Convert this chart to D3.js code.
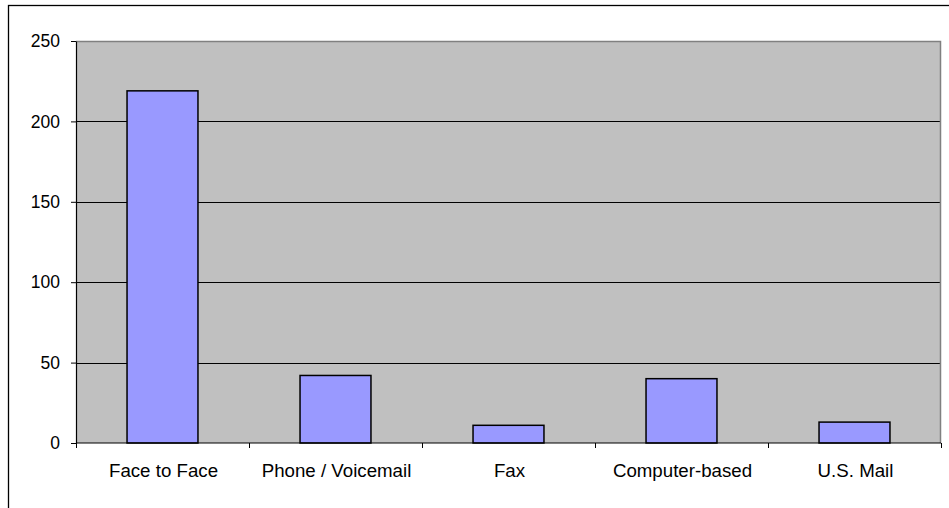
<!DOCTYPE html>
<html>
<head>
<meta charset="utf-8">
<script src="https://cdn.jsdelivr.net/npm/d3@7"></script>
<style>
  html, body { margin: 0; padding: 0; background: #fff; }
  svg { display: block; font-family: "Liberation Sans", Arial, sans-serif; }
</style>
</head>
<body>
<svg id="chart" width="949" height="508"></svg>
<script>
// Contact methods and their counts
const categories = ["Face to Face", "Phone / Voicemail", "Fax", "Computer-based", "U.S. Mail"];
const counts = [219, 42, 11, 40, 13];
const yTicks = [0, 50, 100, 150, 200, 250];

const svg = d3.select("#chart");
const plot = { left: 76, right: 941, top: 41, bottom: 443 };

// Outer chart frame (runs off the right and bottom edges)
svg.append("rect")
  .attr("x", 8.5).attr("y", 5.5)
  .attr("width", 960).attr("height", 520)
  .attr("fill", "#fff").attr("stroke", "#000").attr("stroke-width", 1.3);

const x = d3.scaleBand()
  .domain(categories)
  .range([plot.left, plot.right])
  .paddingInner(0.59)
  .paddingOuter(0.295);

const y = d3.scaleLinear()
  .domain([0, 250])
  .range([plot.bottom, plot.top]);

// Plot area background
svg.append("rect")
  .attr("x", plot.left).attr("y", plot.top)
  .attr("width", plot.right - plot.left).attr("height", plot.bottom - plot.top)
  .attr("fill", "#c0c0c0");

// Horizontal gridlines
svg.append("g")
  .selectAll("line")
  .data(yTicks.filter(d => d > 0 && d < 250))
  .join("line")
  .attr("x1", plot.left).attr("x2", plot.right)
  .attr("y1", d => Math.round(y(d)) + 0.5).attr("y2", d => Math.round(y(d)) + 0.5)
  .attr("stroke", "#000").attr("stroke-width", 1);

// Plot area border (top and right)
svg.append("path")
  .attr("d", `M${plot.left},${plot.top + 0.5}H${plot.right - 0.5}V${plot.bottom}`)
  .attr("fill", "none").attr("stroke", "#808080").attr("stroke-width", 1.5);

// Bars
svg.append("g")
  .selectAll("rect")
  .data(categories.map((c, i) => ({ c, v: counts[i] })))
  .join("rect")
  .attr("x", d => x(d.c))
  .attr("y", d => y(d.v))
  .attr("width", x.bandwidth())
  .attr("height", d => y(0) - y(d.v))
  .attr("fill", "#9999ff")
  .attr("stroke", "#000")
  .attr("stroke-width", 1.5);

// Y axis
const yAxis = svg.append("g")
  .attr("transform", `translate(${plot.left},0)`)
  .call(d3.axisLeft(y).tickValues(yTicks).tickSize(5).tickPadding(11).tickSizeOuter(0));
yAxis.select(".domain").attr("stroke", "#000").attr("stroke-width", 1.2);
yAxis.selectAll(".tick line").attr("stroke", "#000");
yAxis.selectAll(".tick text")
  .attr("font-family", "Liberation Sans, Arial, sans-serif")
  .attr("font-size", 17.5).attr("fill", "#000");

// X axis baseline, category boundary ticks, labels
const step = x.step();
const bounds = d3.range(categories.length + 1).map(i => plot.left + i * step);
svg.append("line")
  .attr("x1", plot.left).attr("x2", plot.right)
  .attr("y1", plot.bottom).attr("y2", plot.bottom)
  .attr("stroke", "#000").attr("stroke-width", 1.2);
svg.append("g")
  .selectAll("line")
  .data(bounds)
  .join("line")
  .attr("x1", d => Math.round(d) + 0.5).attr("x2", d => Math.round(d) + 0.5)
  .attr("y1", plot.bottom).attr("y2", plot.bottom + 5)
  .attr("stroke", "#000");
svg.append("g")
  .selectAll("text")
  .data(categories)
  .join("text")
  .attr("x", d => x(d) + x.bandwidth() / 2 + 1)
  .attr("y", 476.5)
  .attr("text-anchor", "middle")
  .attr("font-size", 18.7)
  .attr("fill", "#000")
  .text(d => d);
</script>
</body>
</html>
